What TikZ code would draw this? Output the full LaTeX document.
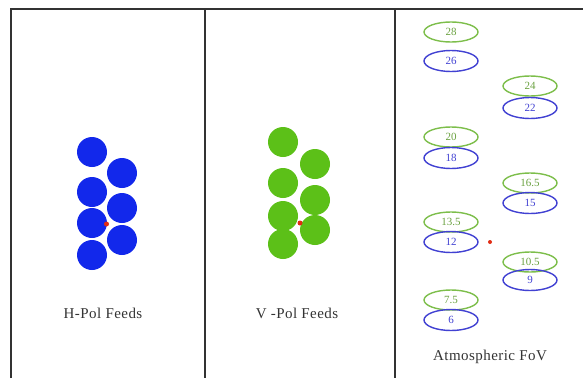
\documentclass[tikz,border=0pt]{standalone}
\usepackage{fontspec}
\setmainfont{Liberation Serif}
\newfontfamily\spacedserif[LetterSpace=3]{Liberation Serif}
\usetikzlibrary{shapes.geometric}
\definecolor{feedblue}{RGB}{18,40,235}
\definecolor{feedgreen}{RGB}{92,192,24}
\definecolor{ringgreen}{RGB}{125,190,75}
\definecolor{ringblue}{RGB}{65,65,210}
\definecolor{dotred}{RGB}{225,45,20}
\definecolor{framegray}{RGB}{50,50,50}
\begin{document}
\begin{tikzpicture}[x=1pt,y=-1pt,
  frame/.style={draw=framegray,line width=1.6pt},
  hfeed/.style={circle,fill=feedblue,minimum size=30pt,inner sep=0pt},
  vfeed/.style={circle,fill=feedgreen,minimum size=30pt,inner sep=0pt},
  centre/.style={circle,fill=dotred,minimum size=5pt,inner sep=0pt},
  gring/.style={ellipse,draw=ringgreen,line width=1.4pt,minimum width=54pt,minimum height=20pt,inner sep=0pt,text=ringgreen!85!black,font=\fontsize{11}{11}\selectfont},
  bring/.style={ellipse,draw=ringblue,line width=1.4pt,minimum width=54pt,minimum height=21pt,inner sep=0pt,text=ringblue,font=\fontsize{11}{11}\selectfont},
  caption/.style={font=\fontsize{15}{15}\spacedserif,text=black!80}]
\useasboundingbox (0,0) rectangle (583,378);
% panel frame
\coordinate (tl) at (11,9);
\coordinate (tr) at (583,9);
\coordinate (bl) at (11,378);
\coordinate (s1t) at (205,9);
\coordinate (s1b) at (205,378);
\coordinate (s2t) at (395,9);
\coordinate (s2b) at (395,378);
\draw[frame] (bl) -- (tl) -- (tr);
\draw[frame] (s1t) -- (s1b);
\draw[frame] (s2t) -- (s2b);
% H-pol feed cluster
\node[hfeed] (h1) at (92,152) {};
\node[hfeed] (h2) at (122,173) {};
\node[hfeed] (h3) at (92,192) {};
\node[hfeed] (h4) at (122,208) {};
\node[hfeed] (h5) at (92,223) {};
\node[hfeed] (h6) at (122,240) {};
\node[hfeed] (h7) at (92,255) {};
\node[centre] (hc) at (106.5,224) {};
\node[caption] (hlab) at (103,313) {H-Pol Feeds};
% V-pol feed cluster
\node[vfeed] (v1) at (283,142) {};
\node[vfeed] (v2) at (315,164) {};
\node[vfeed] (v3) at (283,183) {};
\node[vfeed] (v4) at (315,200) {};
\node[vfeed] (v5) at (283,216) {};
\node[vfeed] (v6) at (315,230) {};
\node[vfeed] (v7) at (283,244) {};
\node[centre] (vc) at (300,223) {};
\node[caption] (vlab) at (297,313) {V -Pol Feeds};
% atmospheric fields of view
\node[gring] (g28) at (451,32) {28};
\node[bring] (b26) at (451,61) {26};
\node[gring] (g24) at (530,86) {24};
\node[bring] (b22) at (530,108) {22};
\node[gring] (g20) at (451,137) {20};
\node[bring] (b18) at (451,158) {18};
\node[gring] (g165) at (530,183) {16.5};
\node[bring] (b15) at (530,203) {15};
\node[gring] (g135) at (451,222) {13.5};
\node[bring] (b12) at (451,242) {12};
\node[centre,minimum size=4pt] (ac) at (490,242) {};
\node[gring] (g105) at (530,262) {10.5};
\node[bring] (b9) at (530,280) {9};
\node[gring] (g75) at (451,300) {7.5};
\node[bring] (b6) at (451,320) {6};
\node[caption] (alab) at (490,357) {Atmospheric FoV};
\end{tikzpicture}
\end{document}
